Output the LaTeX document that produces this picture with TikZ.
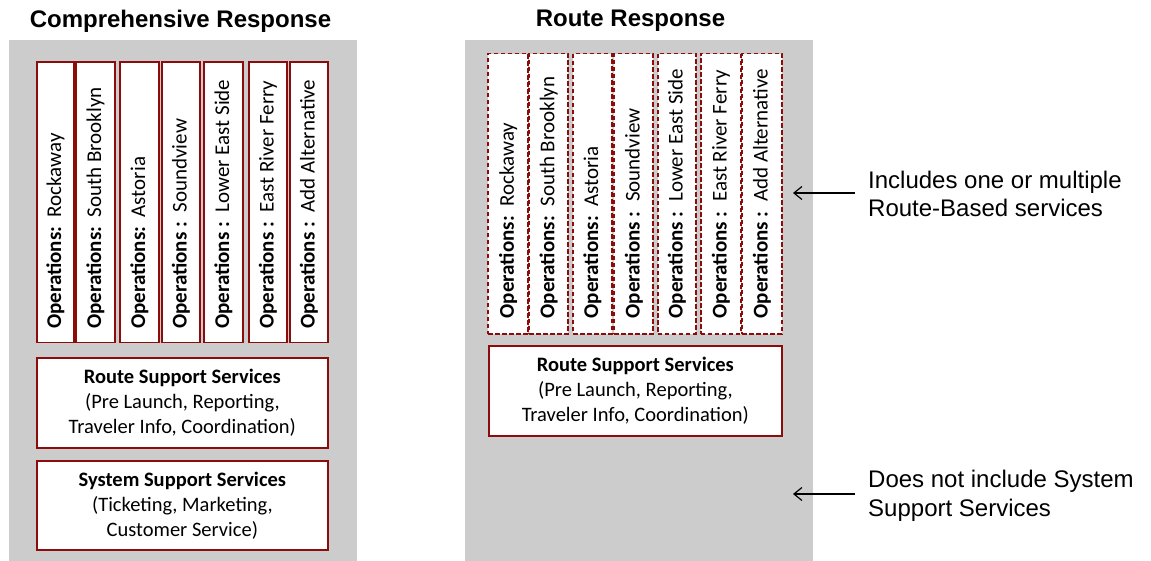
\documentclass[tikz,border=0pt]{standalone}
\usepackage{fontspec}
\setmainfont{Carlito}
\newfontfamily\arialf{Liberation Sans}
\usetikzlibrary{arrows.meta}
\definecolor{panelgray}{RGB}{204,204,204}
\definecolor{boxred}{RGB}{140,12,12}
\tikzset{
  panel/.style={fill=panelgray, draw=none},
  colbox/.style={draw=boxred, fill=white, line width=1.6pt, minimum width=#1, minimum height=280pt, inner sep=0pt},
  dcolbox/.style={colbox=#1, dash pattern=on 4.5pt off 2.5pt, line width=1.8pt},
  coltext/.style={rotate=90, anchor=west, inner sep=0pt, font=\fontsize{21}{24}\selectfont},
  svcbox/.style={draw=boxred, fill=white, line width=1.6pt, inner sep=0pt, align=center, font=\fontsize{20.5}{25}\selectfont},
  title/.style={font=\arialf\bfseries\fontsize{24}{28}\selectfont, inner sep=0pt},
  note/.style={font=\arialf\fontsize{24}{28.5}\selectfont, align=left, anchor=west, inner sep=0pt},
  noteArrow/.style={-{Straight Barb[length=8pt,width=13pt,line width=1.2pt]}, line width=1.2pt}
}
\begin{document}
\begin{tikzpicture}[x=1pt,y=-1pt]
\useasboundingbox (0,0) rectangle (1151,561);
% panels
\fill[panel] (9,40) rectangle (357,561);
\fill[panel] (465,40) rectangle (813,561);
% titles
\node[title] (t1) at (180.5,21) {Comprehensive Response};
\node[title] (t2) at (630.5,21) {Route Response};
% left columns
\node[colbox=37.3pt] (L1) at (55.4,202.3) {};
\node[colbox=39pt]   (L2) at (95.5,202.3) {};
\node[colbox=38.7pt] (L3) at (139.4,202.3) {};
\node[colbox=38.3pt] (L4) at (180.9,202.3) {};
\node[colbox=39pt]   (L5) at (223.5,202.3) {};
\node[colbox=38pt]   (L6) at (268,202.3) {};
\node[colbox=38.3pt] (L7) at (308.9,202.3) {};
\node[coltext] at ([yshift=14pt]L1.south) {\textbf{Operations:}\ \ Rockaway};
\node[coltext] at ([yshift=14pt]L2.south) {\textbf{Operations:}\ \ South Brooklyn};
\node[coltext] at ([yshift=14pt]L3.south) {\textbf{Operations:}\ \ Astoria};
\node[coltext] at ([yshift=14pt]L4.south) {\textbf{Operations :}\ \ Soundview};
\node[coltext] at ([yshift=14pt]L5.south) {\textbf{Operations :}\ \ Lower East Side};
\node[coltext] at ([yshift=14pt]L6.south) {\textbf{Operations :}\ \ East River Ferry};
\node[coltext] at ([yshift=14pt]L7.south) {\textbf{Operations :}\ \ Add Alternative};
% left service boxes
\node[svcbox, minimum width=291.3pt, minimum height=89.7pt] (LR) at (182.35,402.85)
  {\textbf{Route Support Services}\\(Pre Launch, Reporting,\\Traveler Info, Coordination)};
\node[svcbox, minimum width=291.3pt, minimum height=89pt] (LS) at (182.35,505.5)
  {\textbf{System Support Services}\\(Ticketing, Marketing,\\Customer Service)};
% right columns
\node[dcolbox=40pt]   (R1) at (508.3,193.6) {};
\node[dcolbox=39pt]   (R2) at (548.8,193.6) {};
\node[dcolbox=38.4pt] (R3) at (592.5,193.6) {};
\node[dcolbox=39pt]   (R4) at (633.8,193.6) {};
\node[dcolbox=38.3pt] (R5) at (676.9,193.6) {};
\node[dcolbox=39.7pt] (R6) at (720.8,193.6) {};
\node[dcolbox=39.4pt] (R7) at (762,193.6) {};
\node[coltext] at ([yshift=16pt]R1.south) {\textbf{Operations:}\ \ Rockaway};
\node[coltext] at ([yshift=16pt]R2.south) {\textbf{Operations:}\ \ South Brooklyn};
\node[coltext] at ([yshift=16pt]R3.south) {\textbf{Operations:}\ \ Astoria};
\node[coltext] at ([yshift=16pt]R4.south) {\textbf{Operations :}\ \ Soundview};
\node[coltext] at ([yshift=16pt]R5.south) {\textbf{Operations :}\ \ Lower East Side};
\node[coltext] at ([yshift=16pt]R6.south) {\textbf{Operations :}\ \ East River Ferry};
\node[coltext] at ([yshift=16pt]R7.south) {\textbf{Operations :}\ \ Add Alternative};
% right service box
\node[svcbox, minimum width=292.7pt, minimum height=90.3pt] (RR) at (635.35,390.85)
  {\textbf{Route Support Services}\\(Pre Launch, Reporting,\\Traveler Info, Coordination)};
% notes
\node[note] (n1) at (868,194) {Includes one or multiple\\Route-Based services};
\node[note] (n2) at (868,496) {Does not include System\\Support Services};
\coordinate (a1) at (793,193);
\coordinate (a2) at (793,494);
\draw[noteArrow] ([xshift=-13pt]n1.west |- a1) -- (a1);
\draw[noteArrow] ([xshift=-13pt]n2.west |- a2) -- (a2);
\end{tikzpicture}
\end{document}
